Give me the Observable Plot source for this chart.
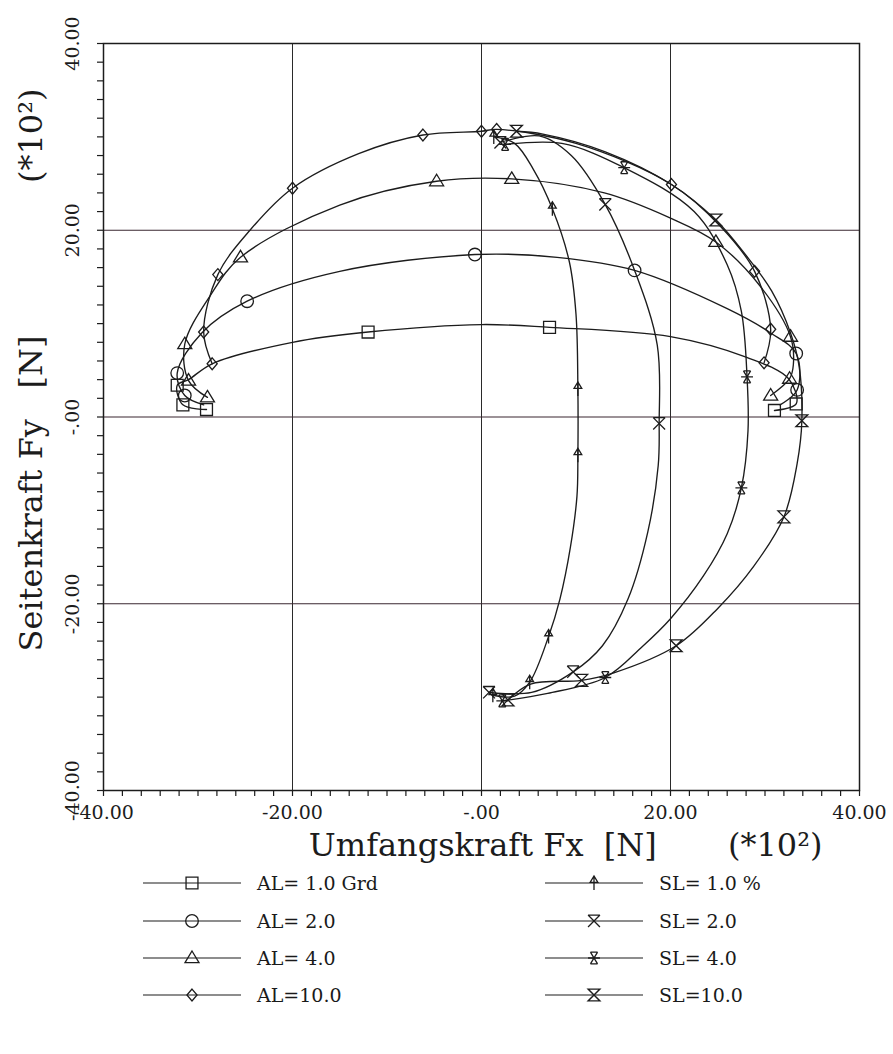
<!DOCTYPE html>
<html><head><meta charset="utf-8">
<script src="https://cdn.jsdelivr.net/npm/d3@7"></script>
<script src="https://cdn.jsdelivr.net/npm/@observablehq/plot@0.6"></script>
<style>
body{margin:0;background:#fff;font-family:"DejaVu Serif",serif;color:#1a1a1a;}
#chart svg{display:block}
#legend{position:relative;width:893px;height:190px;}
.row{position:absolute;display:flex;align-items:center;height:30px;}
.row svg{display:block}
.row span{white-space:pre;font-size:19px;margin-left:16px;font-family:"DejaVu Serif",serif;}
</style></head><body>
<div id="chart"></div><div id="legend"></div>
<script>
// ---- axis / tick data ----
const xTicks = [-40, -20, 0, 20, 40];
const xTickLabels = ["-40.00", "-20.00", "-.00", "20.00", "40.00"];
const yTicks = [-40, -20, 0, 20, 40];
const yTickLabels = ["-40.00", "-20.00", "-.00", "20.00", "40.00"];
const gridValues = [-20, 0, 20];
const minorTicks = d3.range(-40, 41, 2);
const NB = "\u00a0";
const xTitle = "Umfangskraft Fx" + NB.repeat(2) + "[N]" + NB.repeat(7) + "(*10²)";
const yTitle = "Seitenkraft Fy" + NB.repeat(3) + "[N]" + NB.repeat(15) + "(*10²)";

// ---- series: [Fx, Fy, marker shown] (units of 100 N) ----
const seriesNames = ["AL= 1.0 Grd", "AL= 2.0", "AL= 4.0", "AL=10.0", "SL= 1.0 %", "SL= 2.0", "SL= 4.0", "SL=10.0"];
const seriesSymbols = ["square", "circle", "triangle", "diamond", "arrow", "xbar", "xstar", "hourglass"];

const al1 = [[-29.1,0.8,1],[-31.6,1.3,1],[-32.2,3.4,1],[-31.0,4.0,0],[-28.5,5.7,0],[-20.0,8.0,0],[-12.0,9.1,1],[0.0,9.9,0],[7.2,9.6,1],[20.0,8.6,0],[28.0,6.4,0],[32.5,4.1,0],[33.3,1.4,1],[31.0,0.7,1]];
const al2 = [[-29.4,1.3,0],[-31.4,2.3,1],[-32.2,4.7,1],[-29.6,9.0,0],[-24.8,12.4,1],[-15.0,15.6,0],[-0.7,17.4,1],[8.0,17.1,0],[16.2,15.7,1],[26.0,11.6,0],[30.6,9.0,0],[33.3,6.8,1],[33.4,2.9,1],[31.6,1.3,0]];
const al4 = [[-29.0,2.1,1],[-31.0,3.9,1],[-31.4,7.8,1],[-28.7,13.0,0],[-25.5,17.1,1],[-15.0,22.7,0],[-4.75,25.25,1],[3.2,25.5,1],[13.0,24.0,0],[20.0,21.3,0],[24.8,18.75,1],[29.5,14.0,0],[32.7,8.6,1],[33.0,5.6,0],[32.6,4.1,1],[30.6,2.3,1]];
const al10 = [[-28.5,5.7,1],[-29.4,9.1,1],[-27.9,15.25,1],[-24.5,20.0,0],[-20.0,24.5,1],[-13.0,28.2,0],[-6.2,30.2,1],[0.0,30.6,1],[1.6,30.8,1],[10.0,29.3,0],[20.1,24.9,1],[25.3,20.4,0],[28.9,15.6,1],[30.6,9.4,1],[29.9,5.8,1]];
const sl1 = [[1.2,-29.8,1],[3.5,-29.9,0],[5.1,-28.4,1],[7.1,-23.5,1],[8.3,-19.5,0],[9.4,-14.0,0],[10.1,-8.5,0],[10.2,-4.1,1],[10.2,3.0,1],[10.0,11.0,0],[9.3,16.6,0],[7.5,22.3,1],[5.5,26.5,0],[3.5,29.3,0],[1.3,30.0,1]];
const sl2 = [[0.8,-29.5,1],[5.3,-29.5,0],[9.7,-27.3,1],[12.8,-24.5,0],[15.5,-19.5,0],[17.6,-12.3,0],[18.7,-5.2,0],[18.8,-0.7,1],[18.6,7.7,0],[16.2,15.7,0],[13.1,22.75,1],[9.5,28.0,0],[6.1,30.1,0],[2.0,29.4,1]];
const sl4 = [[2.2,-30.4,1],[7.0,-29.6,0],[13.1,-27.9,1],[17.0,-24.6,0],[20.0,-21.6,0],[23.5,-17.0,0],[26.0,-12.5,0],[27.5,-7.6,1],[28.2,-1.5,0],[28.1,4.3,1],[27.5,11.3,0],[26.0,16.3,0],[22.5,22.0,0],[15.1,26.7,1],[8.5,29.3,0],[2.5,29.2,1]];
const sl10 = [[2.8,-30.3,1],[5.2,-28.6,0],[10.6,-28.2,1],[14.0,-27.4,0],[20.6,-24.5,1],[25.0,-20.5,0],[28.8,-16.0,0],[32.0,-10.7,1],[33.4,-5.0,0],[33.9,-0.4,1],[33.6,5.5,0],[32.7,9.0,0],[30.7,13.5,0],[28.0,17.3,0],[24.8,21.1,1],[20.1,24.9,0],[13.1,28.4,0],[6.5,30.3,0],[3.7,30.6,1]];
const seriesPoints = [al1, al2, al4, al10, sl1, sl2, sl4, sl10];

// ---- symbols ----
const symbols = {
  square: {draw(c, s){const r=Math.sqrt(s/Math.PI)*0.85; c.moveTo(-r,-r); c.lineTo(r,-r); c.lineTo(r,r); c.lineTo(-r,r); c.closePath();}},
  circle: {draw(c, s){const r=Math.sqrt(s/Math.PI)*0.9; c.moveTo(r,0); c.arc(0,0,r,0,2*Math.PI);}},
  triangle: {draw(c, s){const r=Math.sqrt(s/Math.PI); c.moveTo(0,-r); c.lineTo(r,0.65*r); c.lineTo(-r,0.65*r); c.closePath();}},
  diamond: {draw(c, s){const r=Math.sqrt(s/Math.PI)*0.85; c.moveTo(0,-r); c.lineTo(0.85*r,0); c.lineTo(0,r); c.lineTo(-0.85*r,0); c.closePath();}},
  arrow: {draw(c, s){const r=Math.sqrt(s/Math.PI); c.moveTo(0,r); c.lineTo(0,-r); c.moveTo(-0.55*r,-0.1*r); c.lineTo(0,-r); c.lineTo(0.55*r,-0.1*r); c.closePath();}},
  xbar: {draw(c, s){const r=Math.sqrt(s/Math.PI)*0.85; c.moveTo(-r,-r); c.lineTo(r,-r); c.moveTo(-r,-r); c.lineTo(r,r); c.moveTo(r,-r); c.lineTo(-r,r);}},
  xstar: {draw(c, s){const r=Math.sqrt(s/Math.PI)*0.85; c.moveTo(-0.6*r,-r); c.lineTo(0.6*r,-r); c.moveTo(-0.6*r,r); c.lineTo(0.6*r,r); c.moveTo(-0.6*r,-r); c.lineTo(0.6*r,r); c.moveTo(0.6*r,-r); c.lineTo(-0.6*r,r); c.moveTo(-r,0); c.lineTo(r,0);}},
  hourglass: {draw(c, s){const r=Math.sqrt(s/Math.PI)*0.85; c.moveTo(-r,-r); c.lineTo(r,-r); c.lineTo(-r,r); c.lineTo(r,r); c.closePath();}}
};

const INK = "#1c1c1c";
const rows = seriesNames.flatMap((name, i) => seriesPoints[i].map(([x, y, m]) => ({name, sym: seriesSymbols[i], x, y, m})));

const dotMarks = seriesNames.map((name, i) =>
  Plot.dot(rows.filter(d => d.name === name && d.m), {x: "x", y: "y", symbol: symbols[seriesSymbols[i]], r: 7, stroke: INK, strokeWidth: 1.3, fill: "none"}));

const chart = Plot.plot({
  width: 893, height: 864,
  marginLeft: 103, marginRight: 34, marginTop: 43, marginBottom: 74,
  x: {domain: [-40, 40], label: null},
  y: {domain: [-40, 40], label: null},
  style: {fontFamily: "DejaVu Serif", color: INK, background: "#fff"},
  marks: [
    Plot.ruleX(gridValues, {stroke: "#2a2a2a", strokeWidth: 1}),
    Plot.ruleY(gridValues, {stroke: "#3a2730", strokeWidth: 1.1}),
    Plot.axisX({ticks: minorTicks, tickSize: 6, tickFormat: () => "", label: null, anchor: "bottom", strokeWidth: 1.2}),
    Plot.axisY({ticks: minorTicks, tickSize: 6, tickFormat: () => "", label: null, anchor: "left", strokeWidth: 1.2}),
    Plot.text(xTicks, {x: d => d, text: (d, i) => xTickLabels[i], frameAnchor: "bottom", textAnchor: "middle", lineAnchor: "middle", dy: 22, fontSize: 19, fontFamily: "DejaVu Serif", fill: INK}),
    Plot.text(yTicks, {y: d => d, text: (d, i) => yTickLabels[i], frameAnchor: "left", textAnchor: "middle", lineAnchor: "middle", dx: -31, rotate: -90, fontSize: 19, fontFamily: "DejaVu Serif", fill: INK}),
    Plot.text([xTitle], {text: d => d, frameAnchor: "bottom-right", textAnchor: "end", lineAnchor: "middle", dx: -37, dy: 55, fontSize: 32, fontFamily: "DejaVu Serif", fill: INK}),
    Plot.text([yTitle], {text: d => d, frameAnchor: "top-left", textAnchor: "end", lineAnchor: "middle", rotate: -90, dx: -72, dy: 45, fontSize: 32, fontFamily: "DejaVu Serif", fill: INK}),
    Plot.line(rows, {x: "x", y: "y", z: "name", curve: "catmull-rom", stroke: INK, strokeWidth: 1.35}),
    ...dotMarks,
    Plot.frame({stroke: INK, strokeWidth: 1.5})
  ]
});
document.getElementById("chart").appendChild(chart);

// ---- legend (HTML below the SVG) ----
const legend = document.getElementById("legend");
const colLeft = [143, 545];
const rowCenters = [19, 57, 94, 131];
seriesNames.forEach((name, i) => {
  const col = Math.floor(i / 4), row = i % 4;
  const div = document.createElement("div");
  div.className = "row";
  div.style.left = colLeft[col] + "px";
  div.style.top = (rowCenters[row] - 15) + "px";
  const p = d3.path();
  symbols[seriesSymbols[i]].draw(p, 49 * Math.PI);
  div.innerHTML = `<svg width="98" height="30"><line x1="0" x2="98" y1="15" y2="15" stroke="${INK}" stroke-width="1.2"/><path transform="translate(49,15)" d="${p.toString()}" fill="none" stroke="${INK}" stroke-width="1.3"/></svg><span>${name}</span>`;
  legend.appendChild(div);
});
</script>
</body></html>
